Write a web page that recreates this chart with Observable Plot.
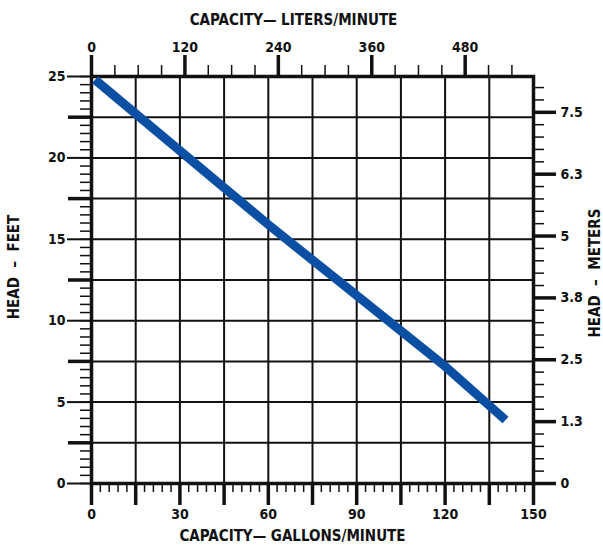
<!DOCTYPE html>
<html><head><meta charset="utf-8">
<script src="https://cdn.jsdelivr.net/npm/d3@7"></script>
<script src="https://cdn.jsdelivr.net/npm/@observablehq/plot@0.6"></script>
<style>
html,body{margin:0;padding:0;background:#fff;}
svg{display:block;}
</style></head><body><div id="chart"></div>
<script>
// Pump curve
const flowGpm = [1.2, 60, 120, 140.5];
const headFt = [24.8, 15.9, 7.2, 3.9];

// Bottom axis: gallons/minute
const gpmLabelTicks = [0, 30, 60, 90, 120, 150];
const gpmMajorTicks = [0, 15, 30, 45, 60, 75, 90, 105, 120, 135, 150];
const gpmMinorTicks = d3.range(0, 150.01, 3);

// Top axis: liters/minute
const literLabelTicks = [0, 120, 240, 360, 480];
const literMinorTicks = d3.range(0, 540.01, 30);
const LITERS_PER_GALLON = 3.785;

// Left axis: feet
const feetLabelTicks = [0, 5, 10, 15, 20, 25];
const feetMajorTicks = [2.5, 7.5, 12.5, 17.5, 22.5];
const feetMinorTicks = d3.range(0, 25.01, 0.5);

// Right axis: meters (as drawn on the chart)
const meterTicks = [0, 1.25, 2.5, 3.75, 5, 6.25, 7.5];
const meterLabels = ["0", "1.3", "2.5", "3.8", "5", "6.3", "7.5"];
const meterMinorTicks = d3.range(0, 8.01, 0.25);
const FEET_PER_METER_ON_CHART = 3.04;

// Grid
const gridX = [15, 30, 45, 60, 75, 90, 105, 120, 135];
const gridY = [2.5, 5, 7.5, 10, 12.5, 15, 17.5, 20, 22.5];

const FONT = "'Liberation Sans Narrow','Arial Narrow','DejaVu Sans Condensed','Liberation Sans',Arial,sans-serif";
const ink = "#111";
const lineColor = "#0a4fa3";

const curve = flowGpm.map((g, i) => ({gpm: g, ft: headFt[i]}));
const toFt = m => m * FEET_PER_METER_ON_CHART;
const meterLabelMap = new Map(meterTicks.map((m, i) => [toFt(m), meterLabels[i]]));

const chart = Plot.plot({
  width: 603,
  height: 546,
  marginLeft: 91,
  marginRight: 70,
  marginTop: 76,
  marginBottom: 63,
  style: {fontFamily: FONT, fontSize: "14px", fontWeight: "bold", color: ink, background: "#fff"},
  x: {domain: [0, 150]},
  y: {domain: [0, 25]},
  marks: [
    Plot.ruleX(gridX, {stroke: ink, strokeWidth: 2}),
    Plot.ruleY(gridY, {stroke: ink, strokeWidth: 2}),
    // bottom axis
    Plot.axisX(gpmMinorTicks, {anchor: "bottom", tickSize: 9, strokeWidth: 1.5, tickFormat: () => "", label: null}),
    Plot.axisX(gpmMajorTicks, {anchor: "bottom", tickSize: 22, strokeWidth: 3.5, tickFormat: () => "", label: null}),
    Plot.axisX(gpmLabelTicks, {anchor: "bottom", tickSize: 0, tickPadding: 26, label: null, fontSize: 14}),
    // top axis
    Plot.axisX(literMinorTicks.map(l => l / LITERS_PER_GALLON), {anchor: "top", tickSize: 12, strokeWidth: 1.5, tickFormat: () => "", label: null}),
    Plot.axisX(literLabelTicks.map(l => l / LITERS_PER_GALLON), {anchor: "top", tickSize: 22, strokeWidth: 3.5, tickPadding: 3, tickFormat: d => String(Math.round(d * LITERS_PER_GALLON)), label: null, fontSize: 14}),
    // left axis
    Plot.axisY(feetMinorTicks, {anchor: "left", tickSize: 11, strokeWidth: 1.5, tickFormat: () => "", label: null}),
    Plot.axisY(feetMajorTicks, {anchor: "left", tickSize: 23, strokeWidth: 3.5, tickFormat: () => "", label: null}),
    Plot.axisY(feetLabelTicks, {anchor: "left", tickSize: 24, strokeWidth: 2, tickPadding: 2, label: null, fontSize: 14}),
    // right axis
    Plot.axisY(meterMinorTicks.map(toFt), {anchor: "right", tickSize: 10, strokeWidth: 1.5, tickFormat: () => "", label: null}),
    Plot.axisY(meterTicks.map(toFt), {anchor: "right", tickSize: 22, strokeWidth: 3.5, tickPadding: 5, tickFormat: d => meterLabelMap.get(d), label: null, fontSize: 14}),
    Plot.frame({stroke: ink, strokeWidth: 3.5}),
    // pump curve
    Plot.line(curve, {x: "gpm", y: "ft", stroke: lineColor, strokeWidth: 9, strokeLinecap: "butt", strokeLinejoin: "round"}),
    // axis titles
    Plot.text(["CAPACITY\u2014 LITERS/MINUTE"], {frameAnchor: "top", textAnchor: "middle", dx: -19, dy: -62, fontSize: 15, fill: ink}),
    Plot.text(["CAPACITY\u2014 GALLONS/MINUTE"], {frameAnchor: "bottom", textAnchor: "middle", dx: -20, dy: 57, fontSize: 15, fill: ink}),
    Plot.text(["HEAD  \u2013  FEET"], {frameAnchor: "left", textAnchor: "middle", dx: -77, dy: -13, rotate: -90, fontSize: 15, fill: ink}),
    Plot.text(["HEAD  \u2013  METERS"], {frameAnchor: "right", textAnchor: "middle", dx: 62, dy: -7, rotate: -90, fontSize: 15, fill: ink})
  ]
});
document.getElementById("chart").appendChild(chart);
</script>
</body></html>
